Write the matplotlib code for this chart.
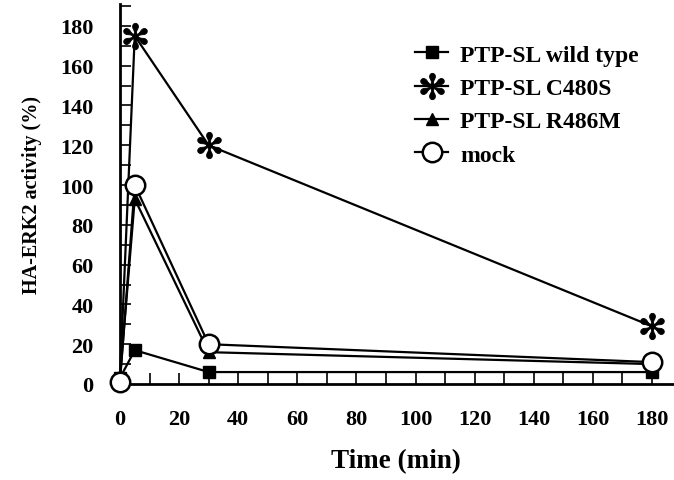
import matplotlib
matplotlib.use("Agg")
import matplotlib.pyplot as plt
from matplotlib.ticker import MultipleLocator

# -------------------- Data ----------------------- #
time_min = [0, 5, 30, 180]
wild_type = [3, 17, 6, 6]
c480s = [3, 175, 120, 29]
r486m = [3, 93, 16, 10]
mock = [1, 100, 20, 11]

series_labels = ["PTP-SL wild type", "PTP-SL C480S", "PTP-SL R486M", "mock"]
x_ticks = list(range(0, 181, 20))
y_ticks = list(range(0, 181, 20))

# -------------------- Plot ----------------------- #
plt.rcParams['font.family'] = ['Liberation Serif', 'DejaVu Serif']
plt.rcParams['font.weight'] = 'bold'
plt.rcParams['mathtext.fontset'] = 'dejavusans'

fig = plt.figure(figsize=(6.74, 4.81), dpi=100)
ax = fig.add_axes([0.178, 0.1996, 0.82, 0.79])

common = dict(color='black', lw=1.6, clip_on=False)
ax.plot(time_min, wild_type, marker='s', ms=8.5, mfc='black', mec='black',
        label=series_labels[0], zorder=3, **common)
ax.plot(time_min, c480s, marker='$\u273b$', ms=19, mew=0.6, mfc='black', mec='black',
        markevery=[1, 2, 3], label=series_labels[1], zorder=3, **common)
ax.plot(time_min, r486m, marker='^', ms=8, mfc='black', mec='black',
        label=series_labels[2], zorder=3, **common)
ax.plot(time_min, mock, marker='o', ms=14, mfc='white', mec='black', mew=1.8,
        label=series_labels[3], zorder=4, **common)

ax.set_xlim(0, 187)
ax.set_ylim(0, 191)
ax.set_xticks(x_ticks)
ax.set_yticks(y_ticks)
ax.xaxis.set_minor_locator(MultipleLocator(10))
ax.yaxis.set_minor_locator(MultipleLocator(10))
ax.tick_params(direction='in', length=8, width=1.2, labelsize=16)
ax.tick_params(which='minor', direction='in', length=8, width=1.2)
ax.tick_params(axis='x', pad=18)
ax.tick_params(axis='y', pad=19)

for side in ['top', 'right']:
    ax.spines[side].set_visible(False)
for side in ['left', 'bottom']:
    ax.spines[side].set_linewidth(2)

ax.set_xlabel('Time (min)', fontsize=19.5, fontweight='bold', labelpad=14)
ax.set_ylabel('HA-ERK2 activity (%)', fontsize=14.5, fontweight='bold', labelpad=13)

leg = fig.legend(loc='upper left', bbox_to_anchor=(415 / 674, 1 - 45 / 481),
                 frameon=False, fontsize=17, handlelength=1.4, handletextpad=0.5,
                 labelspacing=0.5, borderpad=0, borderaxespad=0)

fig.savefig('out.png', dpi=100)
